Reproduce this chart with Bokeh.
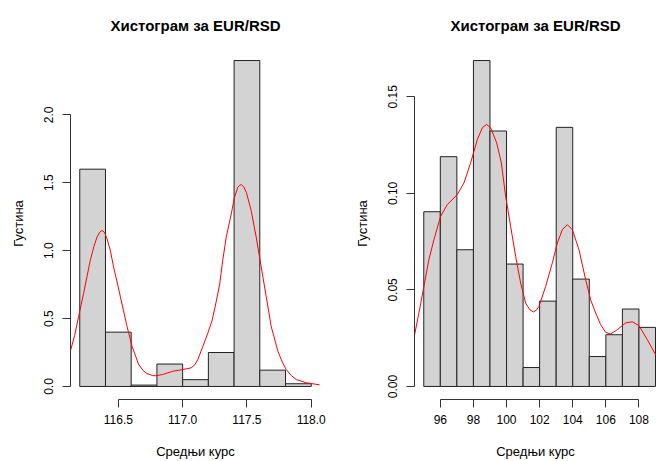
from bokeh.plotting import figure
from bokeh.layouts import row
from bokeh.models import FixedTicker, Range1d
from bokeh.embed import file_html
from bokeh.resources import INLINE

# ---------------- data ----------------
title_text = "Хистограм за EUR/RSD"
x_label = "Средњи курс"
y_label = "Густина"

# Left panel
left_breaks = [116.2, 116.4, 116.6, 116.8, 117.0, 117.2, 117.4, 117.6, 117.8, 118.0]
left_density = [1.60, 0.40, 0.01, 0.165, 0.05, 0.25, 2.40, 0.12, 0.02]
left_kde_x = [116.118, 116.160, 116.191, 116.230, 116.282, 116.310, 116.334, 116.355, 116.373,
              116.392, 116.412, 116.438, 116.463, 116.490, 116.516, 116.568, 116.607, 116.658,
              116.695, 116.723, 116.767, 116.788, 116.845, 116.923, 117.0, 117.066, 117.095,
              117.118, 117.157, 117.196, 117.23, 117.26, 117.287, 117.312, 117.339, 117.378,
              117.403, 117.429, 117.443, 117.456, 117.475, 117.495, 117.533, 117.572, 117.611,
              117.65, 117.689, 117.741, 117.775, 117.806, 117.845, 117.884, 117.962, 118.065]
left_kde_y = [0.229, 0.375, 0.515, 0.686, 0.93, 1.03, 1.10, 1.135, 1.149,
              1.135, 1.088, 1.0, 0.88, 0.77, 0.66, 0.44, 0.295, 0.161,
              0.115, 0.095, 0.080, 0.079, 0.088, 0.112, 0.124, 0.137, 0.160,
              0.198, 0.295, 0.393, 0.49, 0.62, 0.747, 0.93, 1.10, 1.27,
              1.393, 1.466, 1.482, 1.486, 1.470, 1.43, 1.296, 1.10, 0.88,
              0.661, 0.441, 0.258, 0.180, 0.124, 0.080, 0.051, 0.027, 0.012]
left_xticks = [116.5, 117.0, 117.5, 118.0]
left_xtick_labels = ["116.5", "117.0", "117.5", "118.0"]
left_yticks = [0.0, 0.5, 1.0, 1.5, 2.0]
left_ytick_labels = ["0.0", "0.5", "1.0", "1.5", "2.0"]

# Right panel
right_breaks = [95, 96, 97, 98, 99, 100, 101, 102, 103, 104, 105, 106, 107, 108, 109]
right_density = [0.0905, 0.119, 0.0708, 0.1688, 0.1323, 0.0634, 0.0098,
                 0.0442, 0.1342, 0.0556, 0.0155, 0.0268, 0.0401, 0.0306]
right_kde_x = [94.447, 94.707, 95.009, 95.311, 95.613, 96.018, 96.423, 97.027, 97.426,
               97.831, 98.236, 98.538, 98.798, 99.039, 99.402, 99.686, 99.946, 100.248,
               100.550, 100.852, 101.154, 101.400, 101.619, 101.800, 101.958, 102.363,
               102.767, 103.069, 103.372, 103.674, 103.976, 104.375, 104.779, 105.082,
               105.384, 105.686, 105.988, 106.290, 106.695, 107.196, 107.601, 108.0,
               108.508, 109.009]
right_kde_y = [0.0268, 0.0381, 0.0518, 0.0657, 0.0760, 0.0881, 0.0942, 0.0994, 0.1054,
               0.1158, 0.1279, 0.1340, 0.1357, 0.1340, 0.1262, 0.1158, 0.0985, 0.0829,
               0.0674, 0.0536, 0.0432, 0.0398, 0.0386, 0.0395, 0.0415, 0.0518,
               0.0640, 0.0743, 0.0812, 0.0838, 0.0812, 0.0709, 0.0553, 0.0449,
               0.0381, 0.0320, 0.0280, 0.0272, 0.0294, 0.0329, 0.0335, 0.0315,
               0.0242, 0.0164]
right_xticks = [96, 98, 100, 102, 104, 106, 108]
right_xtick_labels = ["96", "98", "100", "102", "104", "106", "108"]
right_yticks = [0.0, 0.05, 0.10, 0.15]
right_ytick_labels = ["0.00", "0.05", "0.10", "0.15"]

FONT = "Liberation Sans"


def make_panel(breaks, dens, kx, ky, xt, xtl, yt, ytl, x_end, border_left, border_right):
    lo, hi = breaks[0], breaks[-1]
    pad = 0.04 * (hi - lo)
    ymax = max(dens)
    x_start = lo - pad
    x_stop = hi + pad if x_end is None else x_end
    p = figure(width=328, height=461, output_backend="svg", toolbar_location=None,
               x_range=Range1d(x_start, x_stop), y_range=Range1d(-0.04 * ymax, 1.04 * ymax),
               min_border_left=border_left, min_border_right=border_right,
               min_border_top=46, min_border_bottom=61)
    p.outline_line_color = None
    p.grid.visible = False
    p.background_fill_color = "white"
    p.border_fill_color = "white"

    p.title.text = title_text
    p.title.align = "center"
    p.title.text_font = FONT
    p.title.text_font_style = "bold"
    p.title.text_font_size = "15px"
    p.title.text_color = "black"
    p.title.standoff = 28

    p.quad(left=breaks[:-1], right=breaks[1:], top=dens, bottom=0,
           fill_color="#D3D3D3", line_color="#222222", line_width=1)
    p.line(kx, ky, line_color="red", line_width=1)

    xa = p.xaxis[0]
    xa.ticker = FixedTicker(ticks=xt)
    xa.major_label_overrides = {v: s for v, s in zip(xt, xtl)}
    xa.bounds = (xt[0], xt[-1])
    ya = p.yaxis[0]
    ya.ticker = FixedTicker(ticks=yt)
    ya.major_label_overrides = {v: s for v, s in zip(yt, ytl)}
    ya.bounds = (yt[0], yt[-1])
    ya.major_label_orientation = "vertical"
    xa.axis_label = x_label
    ya.axis_label = y_label
    for ax in (xa, ya):
        ax.axis_line_color = "#333333"
        ax.major_tick_line_color = "#333333"
        ax.major_tick_out = 8
        ax.major_tick_in = 0
        ax.minor_tick_out = 0
        ax.minor_tick_in = 0
        ax.major_label_text_font = FONT
        ax.major_label_text_font_size = "12px"
        ax.major_label_text_color = "black"
        ax.axis_label_text_font = FONT
        ax.axis_label_text_font_size = "13px"
        ax.axis_label_text_font_style = "normal"
        ax.axis_label_text_color = "black"
    xa.major_label_standoff = 7
    xa.axis_label_standoff = 17
    ya.major_label_standoff = 9
    ya.axis_label_standoff = 16
    return p


p1 = make_panel(left_breaks, left_density, left_kde_x, left_kde_y,
                left_xticks, left_xtick_labels, left_yticks, left_ytick_labels,
                None, 70, 8)
p2 = make_panel(right_breaks, right_density, right_kde_x, right_kde_y,
                right_xticks, right_xtick_labels, right_yticks, right_ytick_labels,
                109.06, 86, 0)

layout = row(p1, p2)
open("out.html", "w").write(file_html(layout, INLINE))
